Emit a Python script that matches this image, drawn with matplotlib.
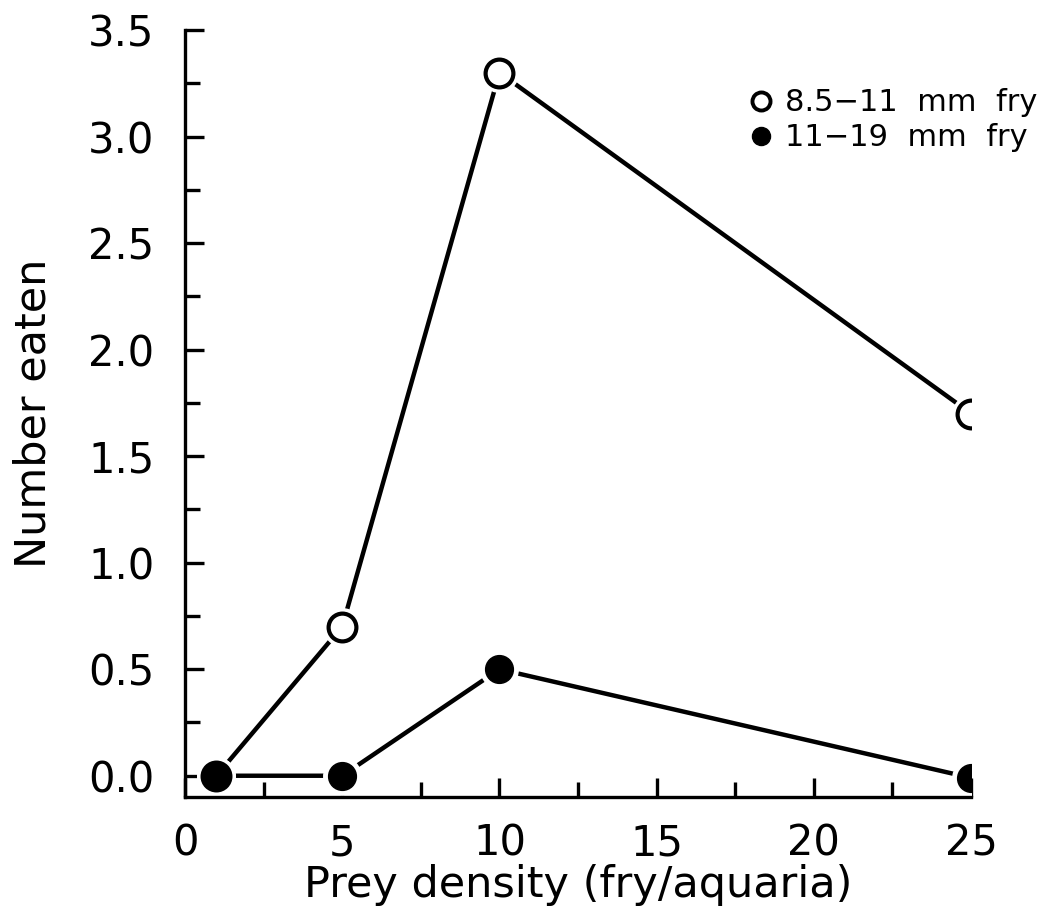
import matplotlib
matplotlib.use("Agg")
import matplotlib.pyplot as plt
from matplotlib.ticker import MultipleLocator, FormatStrFormatter
from matplotlib.lines import Line2D

density = [1, 5, 10, 25]
small_fry = [0.0, 0.7, 3.3, 1.7]     # 8.5-11 mm fry (open)
large_fry = [0.0, 0.0, 0.5, -0.01]   # 11-19 mm fry (filled)
labels = ["8.5\u221211  mm  fry", "11\u221219  mm  fry"]

plt.rcParams['font.family'] = ['DejaVu Sans']

fig = plt.figure(figsize=(10.59, 9.24), dpi=100)
ax = fig.add_axes([0.1747, 0.1374, 0.917 - 0.1747, 0.9675 - 0.1374])

ms = 20
lw = 3.2
ax.plot(density, small_fry, color='black', lw=lw, zorder=1)
ax.plot(density, large_fry, color='black', lw=lw, zorder=1)
ax.plot(density, small_fry, ls='none', marker='o', ms=ms + 7, mfc='white', mec='white', zorder=2)
ax.plot(density, large_fry, ls='none', marker='o', ms=ms + 7, mfc='white', mec='white', zorder=2)
ax.plot(density, small_fry, ls='none', marker='o', ms=ms, mfc='white', mec='black', mew=3, zorder=3)
ax.plot(density, large_fry, ls='none', marker='o', ms=ms, mfc='black', mec='black', zorder=3)

ax.set_xlim(0, 25)
ax.set_ylim(-0.1, 3.5)
ax.xaxis.set_major_locator(MultipleLocator(5))
ax.xaxis.set_minor_locator(MultipleLocator(2.5))
ax.yaxis.set_major_locator(MultipleLocator(0.5))
ax.yaxis.set_minor_locator(MultipleLocator(0.25))
ax.yaxis.set_major_formatter(FormatStrFormatter('%.1f'))

for s in ['top', 'right']:
    ax.spines[s].set_visible(False)
for s in ['left', 'bottom']:
    ax.spines[s].set_linewidth(2.4)

ax.tick_params(which='major', direction='in', length=14, width=2.4, labelsize=30)
ax.tick_params(which='minor', direction='in', length=10.5, width=2.4)
ax.tick_params(axis='y', which='major', pad=22)
ax.tick_params(axis='x', which='major', pad=18)

ax.set_xlabel("Prey density (fry/aquaria)", fontsize=31, labelpad=0)
ax.set_ylabel("Number eaten", fontsize=31, labelpad=24)

lh1 = Line2D([], [], ls='none', marker='o', ms=13, mfc='white', mec='black', mew=2.8)
lh2 = Line2D([], [], ls='none', marker='o', ms=13, mfc='black', mec='black')
ax.legend([lh1, lh2], labels, loc='upper right', bbox_to_anchor=(1.1, 0.94),
          frameon=False, fontsize=22, handlelength=0.6, handletextpad=0.5,
          labelspacing=0.2, borderaxespad=0)

fig.savefig("out.png", dpi=100)
